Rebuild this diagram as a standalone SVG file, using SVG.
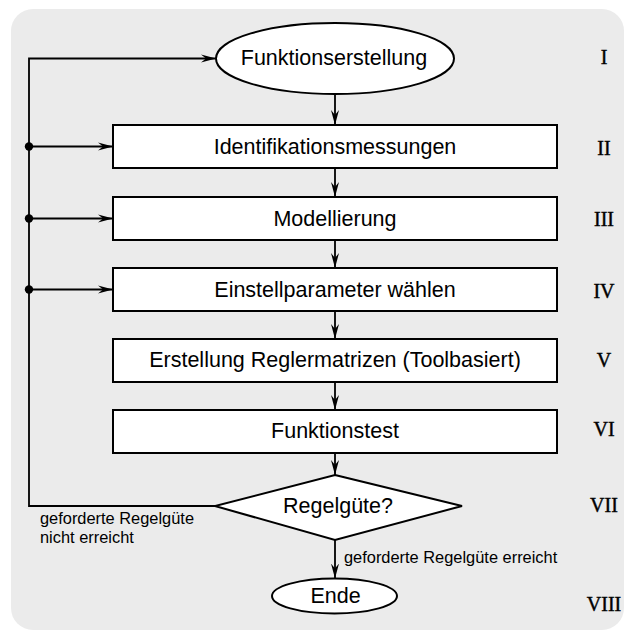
<svg xmlns="http://www.w3.org/2000/svg" width="625" height="632" viewBox="0 0 625 632">
<defs>
<style>
.shape{fill:#fff;stroke:#000;stroke-width:2}
.conn{fill:none;stroke:#000;stroke-width:1.8}
.lbl{font-family:"Liberation Sans",Arial,sans-serif;font-size:21.5px;fill:#000;text-anchor:middle}
.note{font-family:"Liberation Sans",Arial,sans-serif;font-size:16.4px;fill:#000}
.num{font-family:"Liberation Serif","Times New Roman",serif;font-size:20px;fill:#000;stroke:#000;stroke-width:0.4;text-anchor:middle}
</style>
<marker id="arr" markerUnits="userSpaceOnUse" markerWidth="16" markerHeight="10" viewBox="-15 -5 16 10" refX="0" refY="0" orient="auto">
<path d="M0,0 L-15,-4 L-10,0 L-15,4 Z" fill="#000"/>
</marker>
</defs>
<rect x="11" y="9" width="613" height="621" rx="22" fill="#ebebeb"/>

<g id="connectors">
<path class="conn" d="M215,506 H29 V58.5 H216" marker-end="url(#arr)"/>
<path class="conn" d="M29,146.5 H113" marker-end="url(#arr)"/>
<path class="conn" d="M29,218.5 H113" marker-end="url(#arr)"/>
<path class="conn" d="M29,289.5 H113" marker-end="url(#arr)"/>
<circle cx="29" cy="146.5" r="4.2" fill="#000"/>
<circle cx="29" cy="218.5" r="4.2" fill="#000"/>
<circle cx="29" cy="289.5" r="4.2" fill="#000"/>
<path class="conn" d="M335,94 V125" marker-end="url(#arr)"/>
<path class="conn" d="M335,168 V197" marker-end="url(#arr)"/>
<path class="conn" d="M335,240 V268" marker-end="url(#arr)"/>
<path class="conn" d="M335,311 V339" marker-end="url(#arr)"/>
<path class="conn" d="M335,382 V410" marker-end="url(#arr)"/>
<path class="conn" d="M335,453 V475" marker-end="url(#arr)"/>
<path class="conn" d="M335,540 V578.5" marker-end="url(#arr)"/>
<text class="note" x="40" y="524">geforderte Regelgüte</text>
<text class="note" x="40" y="543.3">nicht erreicht</text>
<text class="note" x="344" y="562.7">geforderte Regelgüte erreicht</text>
</g>

<g id="n1">
<ellipse class="shape" cx="335" cy="58.5" rx="119" ry="35.5"/>
<text class="lbl" x="334" y="64.5">Funktionserstellung</text>
<text class="num" x="604" y="64">I</text>
</g>
<g id="n2">
<rect class="shape" x="113" y="125" width="444" height="43"/>
<text class="lbl" x="335" y="154">Identifikationsmessungen</text>
<text class="num" x="604" y="155">II</text>
</g>
<g id="n3">
<rect class="shape" x="113" y="197" width="444" height="43"/>
<text class="lbl" x="335" y="226">Modellierung</text>
<text class="num" x="604" y="226">III</text>
</g>
<g id="n4">
<rect class="shape" x="113" y="268" width="444" height="43"/>
<text class="lbl" x="335" y="297">Einstellparameter wählen</text>
<text class="num" x="604" y="298">IV</text>
</g>
<g id="n5">
<rect class="shape" x="113" y="339" width="444" height="43"/>
<text class="lbl" x="335" y="367">Erstellung Reglermatrizen (Toolbasiert)</text>
<text class="num" x="604" y="367">V</text>
</g>
<g id="n6">
<rect class="shape" x="113" y="410" width="444" height="43"/>
<text class="lbl" x="335" y="437.5">Funktionstest</text>
<text class="num" x="604" y="436">VI</text>
</g>
<g id="n7">
<polygon class="shape" points="335,475 462,506 335,540 215,506"/>
<text class="lbl" x="338" y="513">Regelgüte?</text>
<text class="num" x="604" y="511.5">VII</text>
</g>
<g id="n8">
<ellipse class="shape" cx="334.5" cy="596" rx="62.5" ry="17.5"/>
<text class="lbl" x="335.5" y="602.7">Ende</text>
<text class="num" x="604" y="610.5">VIII</text>
</g>
</svg>
